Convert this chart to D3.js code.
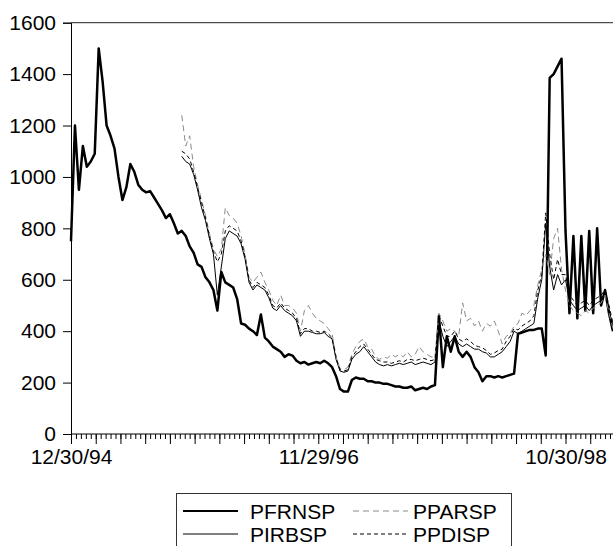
<!DOCTYPE html>
<html>
<head>
<meta charset="utf-8">
<script src="https://cdn.jsdelivr.net/npm/d3@7/dist/d3.min.js"></script>
<style>
  html, body { margin: 0; padding: 0; background: #fff; }
  svg { display: block; }
  text { font-family: "Liberation Sans", Arial, sans-serif; fill: #000; }
</style>
</head>
<body>
<svg id="chart" width="613" height="546"></svg>
<script>
// Daily (business-day) observations, sampled every STEP observations.
const STEP = 8;
const TOTAL_OBS = 1097;

// Date labels on the time axis and the observation they belong to
const dateLabels = ["12/30/94", "11/29/96", "10/30/98"];
const dateLabelObs = [0, 500, 1000];

const yTicks = [0, 200, 400, 600, 800, 1000, 1200, 1400, 1600];

const seriesNames = ["PFRNSP", "PIRBSP", "PPARSP", "PPDISP"];
const seriesStartObs = [0, 224, 224, 224];

const pfrnsp = [
  750, 1200, 950, 1120, 1040, 1060, 1090, 1500, 1370, 1200,
  1160, 1110, 1000, 910, 960, 1050, 1020, 970, 950, 940,
  945, 920, 895, 870, 840, 855, 820, 780, 790, 770,
  730, 705, 660, 650, 610, 590, 560, 480, 630, 590,
  580, 570, 525, 430, 425, 410, 400, 385, 465, 375,
  360, 340, 330, 320, 300, 310, 305, 285, 275, 280,
  270, 275, 280, 275, 285, 275, 260, 225, 175, 165,
  165, 210, 220, 215, 215, 205, 205, 200, 200, 195,
  195, 190, 185, 185, 180, 180, 185, 170, 175, 180,
  175, 185, 190, 460, 260, 380, 320, 380, 320, 300,
  320, 300, 260, 240, 205, 225, 225, 220, 225, 220,
  225, 230, 235, 390, 395, 400, 405, 405, 410, 410,
  305, 1385, 1400, 1430, 1460, 790, 470, 770, 450, 770,
  480, 790, 470, 800, 500, 560, 470, 400
];

const pirbsp = [
  1080, 1060, 1050, 1010, 950, 880, 830, 760, 700, 540,
  650, 760, 790, 780, 770, 740, 680, 590, 560, 580,
  570, 560, 530, 490, 480, 500, 480, 470, 460, 440,
  380, 400, 400, 395, 390, 390, 395, 380, 370, 290,
  245, 240, 245, 290, 310, 320, 340, 320, 300, 280,
  270, 265, 270, 265, 270, 275, 270, 275, 280, 270,
  275, 280, 275, 270, 280, 440, 380, 340, 360, 380,
  350, 340, 350, 340, 330, 330, 320, 315, 300, 300,
  310, 320, 340, 360, 400, 390, 400, 410, 420, 430,
  530, 600, 820, 650, 560, 620, 580, 600, 520, 500,
  480, 490, 500, 480, 500, 510, 520, 550, 480, 420
];

const pparsp = [
  1240, 1120, 1160, 1040, 970, 910, 850, 780, 720, 690,
  720, 880, 850, 840, 820, 770, 700, 610, 590, 610,
  630, 590, 560, 520, 500, 540, 500, 500, 490, 470,
  400, 480, 500, 470, 450, 440, 430, 410, 390, 300,
  255, 250, 260, 310, 340, 360, 370, 340, 330, 300,
  290, 300, 295, 310, 300, 310, 300, 320, 300, 310,
  340, 320, 310, 300, 300, 470, 440, 400, 410, 400,
  380, 510, 440, 450, 420, 440, 400, 430, 420, 440,
  400, 350, 380, 390, 420, 430, 470, 460, 480, 500,
  580, 640, 700, 620, 760, 800, 640, 560, 500, 480,
  470, 460, 480, 470, 490, 500, 510, 540, 470, 410
];

const ppdisp = [
  1100, 1090, 1070, 1020, 960, 900, 840, 770, 710, 670,
  700, 790, 810, 800, 790, 750, 690, 600, 570, 590,
  580, 570, 540, 500, 490, 510, 490, 480, 470, 450,
  390, 410, 410, 400, 400, 395, 400, 390, 375, 300,
  250, 245, 250, 300, 320, 340, 350, 330, 310, 290,
  285, 280, 280, 275, 280, 285, 280, 290, 290, 285,
  290, 295, 290, 285, 290, 460, 420, 380, 380, 400,
  370, 360, 370, 360, 345, 340, 335, 325, 310, 315,
  325, 330, 360, 380, 410, 405, 420, 430, 440, 460,
  560, 620, 860, 700, 600, 680, 620, 620, 540, 520,
  500, 510, 520, 500, 520, 530, 540, 560, 500, 430
];

const seriesValues = [pfrnsp, pirbsp, pparsp, ppdisp];

// Line styles per series
const styles = [
  { stroke: "#000", width: 2.5, dash: null },
  { stroke: "#000", width: 1, dash: null },
  { stroke: "#8a8a8a", width: 1, dash: "6,4" },
  { stroke: "#000", width: 1, dash: "4,3" }
];

const FONT = "21px";

const svg = d3.select("#chart");
svg.append("rect").attr("width", 613).attr("height", 546).attr("fill", "#fff");

const x = d3.scaleLinear().domain([0, TOTAL_OBS - 1]).range([71, 71 + (TOTAL_OBS - 1) * 0.4945]);
const y = d3.scaleLinear().domain([0, 1600]).range([434, 22.7]);

// top frame line
svg.append("line")
  .attr("x1", 71).attr("x2", 613)
  .attr("y1", y(1600)).attr("y2", y(1600))
  .attr("stroke", "#222").attr("stroke-width", 1);

// Series lines
const line = d3.line().x(d => x(d[0])).y(d => y(d[1]));
seriesValues.forEach((vals, i) => {
  const pts = vals.map((v, j) => [seriesStartObs[i] + j * STEP, v]);
  const p = svg.append("path")
    .attr("d", line(pts))
    .attr("fill", "none")
    .attr("stroke", styles[i].stroke)
    .attr("stroke-width", styles[i].width)
    .attr("stroke-linejoin", "round");
  if (styles[i].dash) p.attr("stroke-dasharray", styles[i].dash);
});

// Y axis
const yAxis = svg.append("g")
  .attr("transform", "translate(71,0)")
  .call(d3.axisLeft(y).tickValues(yTicks).tickSize(8).tickPadding(7).tickFormat(d3.format("d")));
yAxis.select(".domain").attr("stroke", "#000");
yAxis.selectAll("text").style("font-size", FONT);

// X axis: minor ticks every 10 observations, longer ticks every 50
const minorObs = d3.range(0, TOTAL_OBS, 10);
const majorObs = d3.range(0, TOTAL_OBS, 50);
const xMinor = svg.append("g")
  .attr("transform", "translate(0,434)")
  .call(d3.axisBottom(x).tickValues(minorObs).tickSize(5).tickFormat(""));
xMinor.select(".domain").attr("stroke", "#000").attr("d", `M71,0H613`);
svg.append("g")
  .attr("transform", "translate(0,434)")
  .call(d3.axisBottom(x).tickValues(majorObs).tickSize(10).tickFormat(""))
  .select(".domain").remove();
const xLab = svg.append("g")
  .attr("transform", "translate(0,434)")
  .call(d3.axisBottom(x).tickValues(dateLabelObs).tickSize(0).tickPadding(15)
    .tickFormat((d, i) => dateLabels[i]));
xLab.select(".domain").remove();
xLab.selectAll("text").style("font-size", FONT);

// Legend
const lg = svg.append("g");
lg.append("rect")
  .attr("x", 176.5).attr("y", 493.5).attr("width", 335).attr("height", 70)
  .attr("fill", "#fff").attr("stroke", "#333").attr("stroke-width", 1);
const legendPos = [
  { lx: 183, tx: 250, y: 511 },
  { lx: 183, tx: 250, y: 534 },
  { lx: 353, tx: 413, y: 511 },
  { lx: 353, tx: 413, y: 534 }
];
seriesNames.forEach((name, i) => {
  const p = legendPos[i];
  const l = lg.append("line")
    .attr("x1", p.lx).attr("x2", p.lx + 55)
    .attr("y1", p.y).attr("y2", p.y)
    .attr("stroke", styles[i].stroke)
    .attr("stroke-width", i === 0 ? 2 : 1);
  if (styles[i].dash) l.attr("stroke-dasharray", styles[i].dash);
  lg.append("text")
    .attr("x", p.tx).attr("y", p.y).attr("dy", "0.36em")
    .style("font-size", FONT)
    .text(name);
});
</script>
</body>
</html>
